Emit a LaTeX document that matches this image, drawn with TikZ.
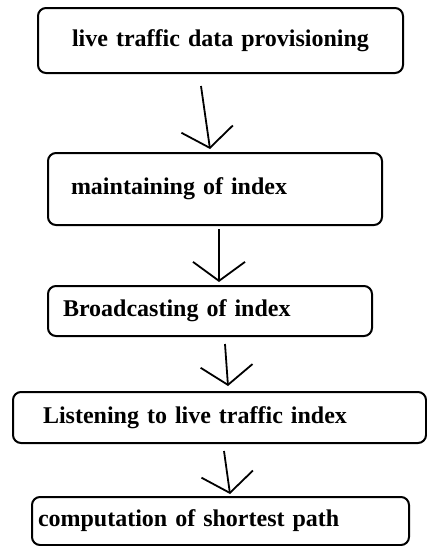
\documentclass[tikz,border=0pt]{standalone}
\usepackage{fontspec}
\setmainfont{Liberation Serif}
\usetikzlibrary{arrows.meta}

\tikzset{
  stage/.style={draw, line width=2pt, rounded corners=8pt, inner ysep=0pt,
    font=\fontsize{24}{28}\selectfont\bfseries},
  flow/.style={line width=1.8pt, -{Straight Barb[length=19pt,width=52pt,line width=1.8pt]}}
}

\begin{document}
\begin{tikzpicture}
   \useasboundingbox (0,0) rectangle (427pt,-546pt);
   % the five stages, top to bottom
   \node[stage, text width=345pt, inner xsep=10pt, minimum height=65pt, align=center]
     (prov) at (220.5pt,-40.5pt) {live traffic data provisioning};
   \node[stage, text width=288pt, inner xsep=23pt, minimum height=72pt, align=left]
     (maint) at (215pt,-189pt) {maintaining of index};
   \node[stage, text width=294pt, inner xsep=15pt, minimum height=50pt, align=left]
     (bcast) at (210pt,-311pt) {Broadcasting of index};
   \node[stage, text width=353pt, inner xsep=30pt, minimum height=51pt, align=left]
     (listen) at (219.5pt,-417.5pt) {Listening to live traffic index};
   \node[stage, text width=365pt, inner xsep=6pt, minimum height=48pt, align=left]
     (path) at (220.5pt,-521pt) {computation of shortest path};
   % hand drawn arrows between them
   \foreach \a/\sa/\ga/\b/\sb/\gb in
     {  prov/-19.5pt/12pt/maint/-5pt/3pt,
       maint/4pt/3pt/bcast/9pt/3pt,
       bcast/15pt/7pt/listen/8.5pt/5pt,
      listen/4.5pt/7pt/path/9.5pt/2pt
     }
     \draw[flow] ([shift={(\sa,-\ga)}]\a.south) -- ([shift={(\sb,\gb)}]\b.north);
\end{tikzpicture}
\end{document}
